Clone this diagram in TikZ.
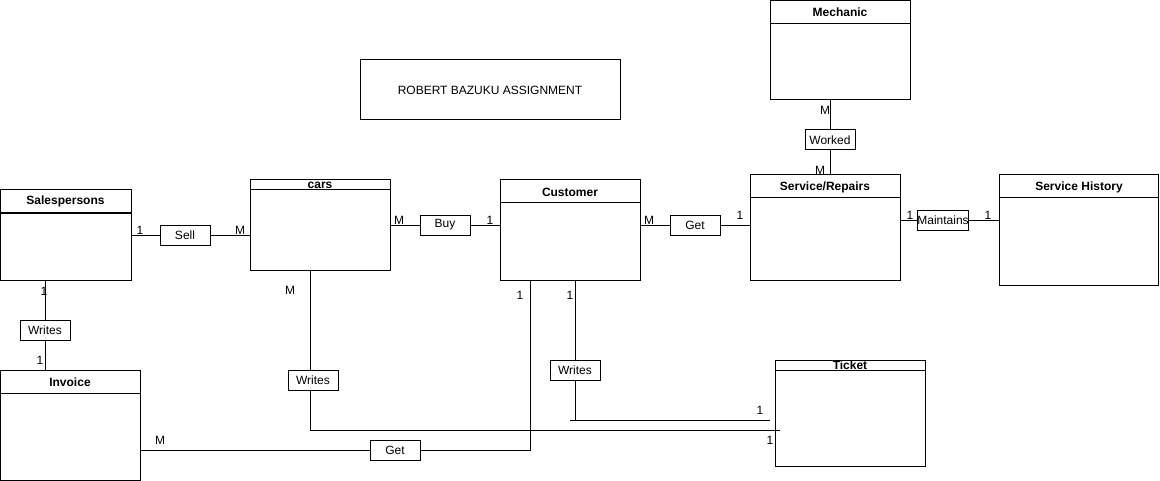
\documentclass[tikz,border=0pt]{standalone}
\usepackage{fontspec}
\setmainfont{Liberation Sans}
\usetikzlibrary{positioning, calc}
\tikzset{
	entitybox/.style n args={3}{
			draw=black,
			line width=0.75pt,
			minimum width=#1*0.75pt,
			minimum height=#2*0.75pt,
			inner sep=0pt,
			path picture={
					\draw[line width=0.75pt]
					([yshift=-#3*0.75pt]path picture bounding box.north west) --
					([yshift=-#3*0.75pt]path picture bounding box.north east);
				}
		},
	headtext/.style={
			font=\fontsize{9pt}{11pt}\selectfont\bfseries,
			inner sep=0pt
		},
	relbox/.style={
			draw=black,
			fill=white,
			line width=0.75pt,
			minimum width=37.5pt,
			minimum height=15pt,
			inner sep=0pt
		},
	titlebox/.style={
			draw=black,
			line width=0.75pt,
			minimum width=195pt,
			minimum height=45pt,
			inner sep=0pt
		},
	card/.style={
			inner sep=0pt
		},
	link/.style={
			line width=0.75pt
		}
}

\begin{document}
\begin{tikzpicture}[x=0.75pt, y=-0.75pt, font=\fontsize{9pt}{11pt}\selectfont]
\useasboundingbox (0,0) rectangle (1160,481);

% entities
\node[entitybox={131}{90}{23}] (sales) at (65.5,235) {};
\node[headtext] (salesH) at (65.5,201.5) {Salespersons};
\node[entitybox={140}{90}{10}] (cars) at (320,225) {};
\node[headtext] (carsH) at (320,185) {cars};
\node[entitybox={140}{100}{23}] (cust) at (570,230) {};
\node[headtext] (custH) at (570,192) {Customer};
\node[entitybox={140}{99}{23}] (mech) at (840,50.5) {};
\node[headtext] (mechH) at (840,12.5) {Mechanic};
\node[entitybox={150}{105}{23}] (serv) at (825,227.5) {};
\node[headtext] (servH) at (825,187) {Service/Repairs};
\node[entitybox={159}{110}{23}] (hist) at (1079,230) {};
\node[headtext] (histH) at (1079,187) {Service History};
\node[entitybox={140}{110}{23}] (inv) at (70,425) {};
\node[headtext] (invH) at (70,382) {Invoice};
\node[entitybox={150}{106}{10}] (ticket) at (850,413) {};
\node[headtext] (ticketH) at (850,365) {Ticket};

\node[titlebox] (title) at (490,90) {ROBERT BAZUKU ASSIGNMENT};

% relationships
\node[relbox] (sell) at (185,235.5) {Sell};
\node[relbox] (buy) at (445,225) {Buy};
\node[relbox] (getsv) at (695,225) {Get};
\node[relbox] (maint) at (943,220.5) {Maintains};
\node[relbox] (worked) at (830,140) {Worked};
\node[relbox] (writesinv) at (45,330) {Writes};
\node[relbox] (writescar) at (313,380) {Writes};
\node[relbox] (writestk) at (575,370) {Writes};
\node[relbox] (getinv) at (395,450) {Get};

\coordinate (custdrop) at (530,280);
\coordinate (carline) at (780,430);
\coordinate (tkline) at (770,420);
\coordinate (tkstart) at (570,420);

% connectors
\draw[link] (sales.east |- sell) -- (sell) -- (sell -| cars.west);
\draw[link] (cars.east |- buy) -- (buy) -- (buy -| cust.west);
\draw[link] (cust.east |- getsv) -- (getsv) -- (getsv -| serv.west);
\draw[link] (serv.east |- maint) -- (maint) -- (maint -| hist.west);
\draw[link] (worked |- mech.south) -- (worked) -- (worked |- serv.north);
\draw[link] (writesinv |- sales.south) -- (writesinv) -- (writesinv |- inv.north);
\draw[link] ([xshift=-2.25pt]writescar |- cars.south) -- ([xshift=-2.25pt]writescar.north);
\draw[link] ([xshift=-2.25pt]writescar.south) |- (carline);
\draw[link] (writestk |- cust.south) -- (writestk);
\draw[link] (writestk) -- (writestk |- tkline);
\draw[link] (tkstart) -- (tkline);
\draw[link] (custdrop) |- (getinv);
\draw[link] (getinv) -- (getinv -| inv.east);

% cardinalities
\node[card] at (140,230) {1};
\node[card] at (240,230) {M};
\node[card] at (399,220) {M};
\node[card] at (490,220) {1};
\node[card] at (649,220) {M};
\node[card] at (740,215) {1};
\node[card] at (910,215) {1};
\node[card] at (988,215) {1};
\node[card] at (825,110) {M};
\node[card] at (820,170) {M};
\node[card] at (44,291) {1};
\node[card] at (40,360) {1};
\node[card] at (290,290) {M};
\node[card] at (520,295) {1};
\node[card] at (570,295) {1};
\node[card] at (160,440) {M};
\node[card] at (760,410) {1};
\node[card] at (770,440) {1};

\end{tikzpicture}
\end{document}
